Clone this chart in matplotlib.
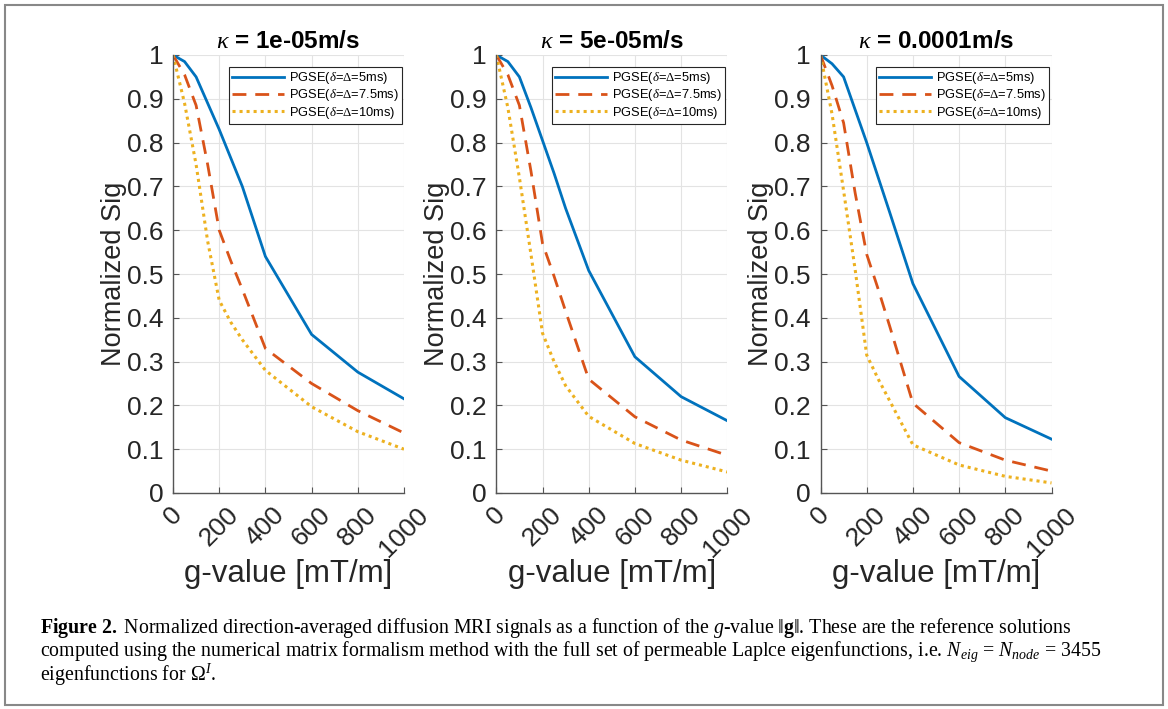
import numpy as np
import matplotlib
matplotlib.use('Agg')
import matplotlib.pyplot as plt
from matplotlib.patches import Rectangle

# g-values [mT/m] and the three permeabilities
g_values = [0, 50, 100, 150, 200, 250, 300, 400, 600, 800, 1000]
kappas = ['1e-05', '5e-05', '0.0001']

# normalized signals, one row per kappa
sig_5ms = [
    [1, 0.985, 0.95, 0.89, 0.83, 0.765, 0.70, 0.54, 0.362, 0.276, 0.215],
    [1, 0.985, 0.95, 0.88, 0.805, 0.73, 0.65, 0.508, 0.311, 0.22, 0.165],
    [1, 0.98, 0.95, 0.875, 0.80, 0.72, 0.64, 0.478, 0.266, 0.172, 0.123],
]
sig_7_5ms = [
    [1, 0.955, 0.885, 0.75, 0.60, 0.53, 0.465, 0.33, 0.25, 0.188, 0.137],
    [1, 0.955, 0.885, 0.735, 0.57, 0.495, 0.415, 0.26, 0.174, 0.121, 0.086],
    [1, 0.93, 0.845, 0.685, 0.545, 0.465, 0.38, 0.205, 0.115, 0.075, 0.05],
]
sig_10ms = [
    [1, 0.89, 0.75, 0.575, 0.44, 0.39, 0.35, 0.28, 0.197, 0.14, 0.10],
    [1, 0.88, 0.72, 0.545, 0.365, 0.30, 0.245, 0.175, 0.113, 0.075, 0.048],
    [1, 0.865, 0.69, 0.51, 0.315, 0.26, 0.21, 0.11, 0.064, 0.038, 0.023],
]

legend_labels = [r'PGSE($\delta$=$\Delta$=5ms)',
                 r'PGSE($\delta$=$\Delta$=7.5ms)',
                 r'PGSE($\delta$=$\Delta$=10ms)']
x_ticks = [0, 200, 400, 600, 800, 1000]
y_ticks = [0, 0.1, 0.2, 0.3, 0.4, 0.5, 0.6, 0.7, 0.8, 0.9, 1]
y_ticklabels = ['0', '0.1', '0.2', '0.3', '0.4', '0.5', '0.6', '0.7', '0.8', '0.9', '1']

plt.rcParams['font.family'] = ['Liberation Sans', 'DejaVu Sans']
plt.rcParams['mathtext.fontset'] = 'custom'
plt.rcParams['mathtext.rm'] = 'Liberation Serif'
plt.rcParams['mathtext.it'] = 'Liberation Serif:italic'
plt.rcParams['mathtext.bf'] = 'Liberation Serif:bold'

W, H = 1168, 709
fig = plt.figure(figsize=(W / 100, H / 100), dpi=100)

lefts = [173, 496.3, 820.5]
ax_w = 231
ax_top, ax_bot = 55, 493

for i, left in enumerate(lefts):
    ax = fig.add_axes([left / W, 1 - ax_bot / H, ax_w / W, (ax_bot - ax_top) / H])
    ax.plot(g_values, sig_5ms[i], color='#0072BD', lw=2.0, label=legend_labels[0])
    ax.plot(g_values, sig_7_5ms[i], color='#D95319', lw=2.0, dashes=(5, 3.2), label=legend_labels[1])
    ax.plot(g_values, sig_10ms[i], color='#EDB120', lw=2.2, linestyle=(0, (1, 1.3)), label=legend_labels[2])

    ax.set_xlim(0, 1000)
    ax.set_ylim(0, 1)
    ax.set_xticks(x_ticks)
    ax.set_xticklabels([str(t) for t in x_ticks], rotation=45, ha='center', va='top')
    ax.set_yticks(y_ticks)
    ax.set_yticklabels(y_ticklabels)
    ax.grid(True, color='#e3e3e3', lw=0.8)
    ax.set_axisbelow(True)
    for s in ['top', 'right']:
        ax.spines[s].set_visible(False)
    for s in ['left', 'bottom']:
        ax.spines[s].set_color('#555555')
        ax.spines[s].set_linewidth(1.0)
    ax.tick_params(direction='in', length=4, width=0.8, colors='#555555',
                   labelcolor='#262626', labelsize=19, pad=7)

    ax.set_title(r'$\kappa$ = ' + kappas[i] + 'm/s', fontsize=17.5, fontweight='bold', pad=5)
    ax.set_xlabel('g-value [mT/m]', fontsize=22.5, color='#262626')
    ax.xaxis.set_label_coords(0.5, -0.15)
    ax.set_ylabel('Normalized Sig', fontsize=19.5, color='#262626')
    ax.yaxis.set_label_coords(-0.2, 0.5)

    leg = ax.legend(loc='upper right', bbox_to_anchor=(0.991, 0.973), borderaxespad=0,
                    fontsize=9.3, handlelength=4.0, handletextpad=0.4, labelspacing=0.1,
                    borderpad=0.25, fancybox=False, framealpha=1)
    leg.get_frame().set_edgecolor('#262626')
    leg.get_frame().set_linewidth(0.8)

# outer frame
fig.patches.append(Rectangle((5 / W, 4 / H), 1158 / W, 700 / H, transform=fig.transFigure,
                             fill=False, edgecolor='#888888', lw=1.5))

caption = [
    r'$\mathbf{Figure\ 2.}$ Normalized direction-averaged diffusion MRI signals as a function of the $g$-value $\Vert\mathbf{g}\Vert$. These are the reference solutions',
    r'computed using the numerical matrix formalism method with the full set of permeable Laplce eigenfunctions, i.e. $N_{eig}$ = $N_{node}$ = 3455',
    r'eigenfunctions for $\Omega^{I}$.',
]
baselines = [633, 656, 681]
for line, yb in zip(caption, baselines):
    fig.text(40 / W, 1 - yb / H, line, fontsize=14.3, family='Liberation Serif',
             va='baseline', ha='left')

fig.savefig('out.png', dpi=100)
